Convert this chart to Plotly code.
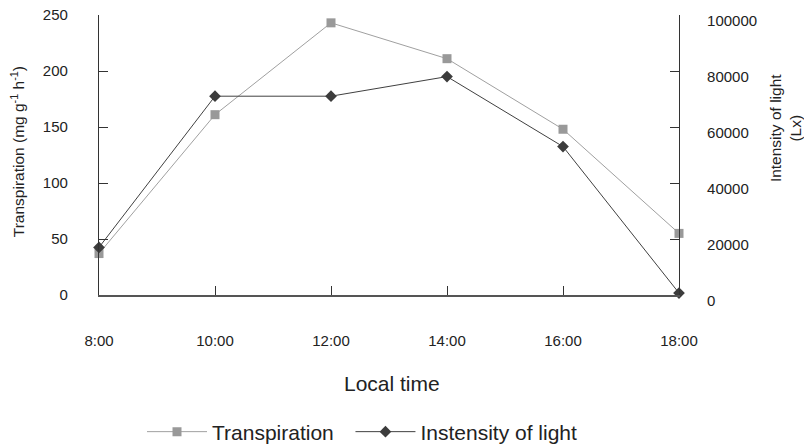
import plotly.graph_objects as go

times = ["8:00", "10:00", "12:00", "14:00", "16:00", "18:00"]
hours = [8, 10, 12, 14, 16, 18]
transpiration = [37, 161, 243, 211, 148, 55]
light = [17000, 71000, 71000, 78000, 53000, 700]

FONT = "Liberation Sans, Arial, sans-serif"

fig = go.Figure()
fig.add_trace(go.Scatter(
    x=hours, y=transpiration, name="Transpiration\u00a0\u00a0", mode="lines+markers",
    line=dict(color="#a0a0a0", width=1),
    marker=dict(symbol="square", size=9, color="#999999"),
    cliponaxis=False, yaxis="y"))
fig.add_trace(go.Scatter(
    x=hours, y=light, name="Instensity of light", mode="lines+markers",
    line=dict(color="#404040", width=1),
    marker=dict(symbol="diamond", size=9, color="#3c3c3c"),
    cliponaxis=False, yaxis="y2"))

fig.update_layout(
    width=804, height=448,
    margin=dict(l=99, r=125, t=15, b=153, autoexpand=False),
    plot_bgcolor="white", paper_bgcolor="white",
    font=dict(family=FONT, size=15, color="#222222"),
    showlegend=True,
    legend=dict(orientation="h", xref="container", yref="container",
                x=142 / 804, xanchor="left", y=(448 - 432) / 448, yanchor="middle",
                font=dict(size=21, color="#222222"), itemwidth=60,
                bgcolor="rgba(0,0,0,0)"),
    xaxis=dict(range=[8, 18], tickvals=hours, ticktext=times,
               showline=True, linecolor="#555555", linewidth=1.5,
               ticks="inside", ticklen=9, tickcolor="#333333",
               ticklabelstandoff=31, showgrid=False, zeroline=False,
               automargin=False, tickfont=dict(size=15)),
    yaxis=dict(range=[0, 250], tickvals=[0, 50, 100, 150, 200, 250],
               showline=True, linecolor="#333333", linewidth=1.2,
               ticks="inside", ticklen=9, tickcolor="#333333",
               ticklabelstandoff=27, showgrid=False, zeroline=False,
               automargin=False, tickfont=dict(size=15)),
    yaxis2=dict(range=[0, 100000], tickvals=[0, 20000, 40000, 60000, 80000, 100000],
                overlaying="y", side="right",
                showline=True, linecolor="#333333", linewidth=1.2,
                ticks="inside", ticklen=9, tickcolor="#333333",
                ticklabelstandoff=24, ticklabelshift=6,
                showgrid=False, zeroline=False, tickformat="d",
                automargin=False, tickfont=dict(size=15)),
    annotations=[
        dict(text="Transpiration (mg g<sup>-1</sup> h<sup>-1</sup>)", xref="paper", yref="paper",
             x=(18 - 99) / 580, y=0.51, textangle=-90, showarrow=False,
             xanchor="center", yanchor="middle", font=dict(size=15.5)),
        dict(text="Intensity of light<br>(Lx)", xref="paper", yref="paper",
             x=(785 - 99) / 580, y=0.596, textangle=-90, showarrow=False,
             xanchor="center", yanchor="middle", font=dict(size=15.5)),
        dict(text="Local time", xref="paper", yref="paper",
             x=(392 - 99) / 580, y=-(383 - 295) / 280, showarrow=False,
             xanchor="center", yanchor="middle", font=dict(size=21)),
    ],
)

fig.write_html("out.html")
